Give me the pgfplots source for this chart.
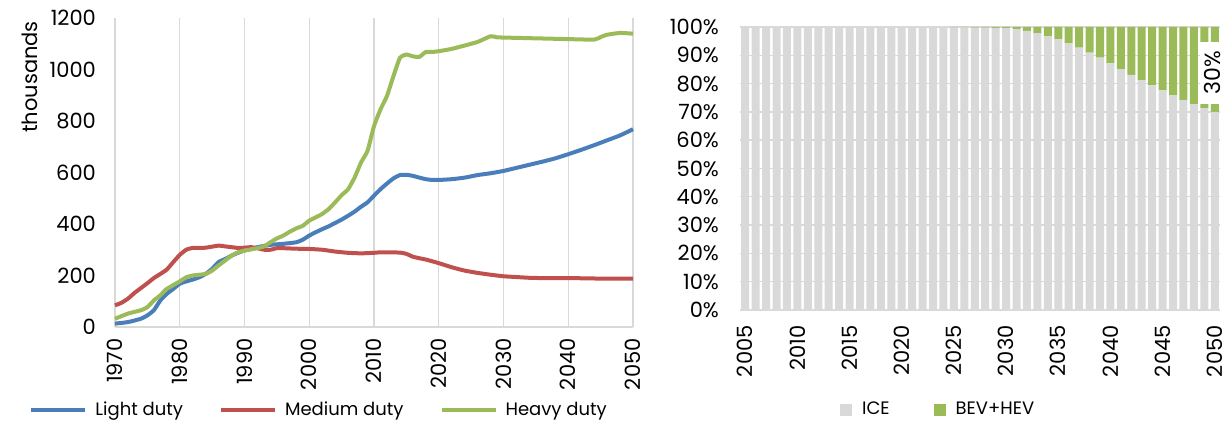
\documentclass[border=0pt]{standalone}
\usepackage{pgfplots}
\pgfplotsset{compat=1.18}
\usepackage{fontspec}
\setmainfont{Poppins}
\definecolor{cblue}{HTML}{4A7EBB}
\definecolor{cred}{HTML}{C0504D}
\definecolor{cgreen}{HTML}{9BBB59}
\definecolor{cgray}{HTML}{D9D9D9}
\begin{document}
\begin{tikzpicture}
\useasboundingbox (0,0) rectangle (614pt,213pt);
\node[rotate=90, font=\fontsize{10.5}{12}\selectfont] at (15pt,174.5pt) {thousands};
\begin{axis}[at={(57.5pt,49.5pt)}, anchor=south west, scale only axis,
  width=259pt, height=154.5pt,
  xmin=1970, xmax=2050, ymin=0, ymax=1200,
  xtick={1970,1980,...,2050}, ytick={0,200,...,1200},
  xmajorgrids, grid style={cgray, line width=0.7pt},
  axis lines*=left, axis line style={cgray, line width=0.8pt},
  major tick length=0pt,
  /pgf/number format/1000 sep={},
  /pgf/number format/assume math mode=true,
  tick label style={font=\fontsize{10.5}{12}\selectfont},
  x tick label style={rotate=90, anchor=east, inner sep=0pt, xshift=-5.5pt},
  y tick label style={xshift=-6pt},
  legend columns=3,
  legend style={at={(0.396,-0.269)}, anchor=center, draw=none, fill=none,
    font=\fontsize{9}{11}\selectfont, inner sep=0pt,
    /tikz/every even column/.append style={column sep=16pt},
    /tikz/every odd column/.append style={column sep=2pt}},
  legend image code/.code={\draw[#1, line width=2pt] (0pt,0pt) -- (27pt,0pt);},
  clip=false,
]
\addplot[cblue, line width=2pt, smooth, tension=0.3] coordinates {
(1970,13)(1972,19)(1974,32)(1975,45)(1976,65)(1977,103)(1978,129)(1979,148)(1980,168)
(1981,177)(1982,184)(1983,193)(1984,206)(1985,226)(1986,252)(1987,264)(1988,277)(1989,288)
(1990,297)(1991,303)(1992,310)(1994,319)(1996,323)(1998,329)(1999,339)(2000,355)(2001,368)
(2002,380)(2003,391)(2004,404)(2005,417)(2006,432)(2007,448)(2008,467)(2009,484)(2010,510)
(2011,535)(2012,557)(2013,577)(2014,590)(2015,591)(2016,587)(2017,580)(2018,574)(2019,571)
(2020,571)(2022,574)(2024,580)(2026,590)(2028,597)(2030,606)(2032,618)(2034,630)(2036,642)
(2038,655)(2040,671)(2042,688)(2044,706)(2046,725)(2048,744)(2050,768)};
\addlegendentry{Light duty}
\addplot[cred, line width=2pt, smooth, tension=0.3] coordinates {
(1970,84)(1971,94)(1972,110)(1973,132)(1974,151)(1975,170)(1976,190)(1977,206)(1978,223)
(1979,252)(1980,280)(1981,300)(1982,307)(1983,307)(1984,308)(1985,312)(1986,316)(1987,313)
(1988,310)(1989,307)(1990,308)(1991,310)(1992,306)(1993,300)(1994,300)(1995,306)(1996,306)
(1998,304)(2000,303)(2002,300)(2004,293)(2006,288)(2008,286)(2010,288)(2011,290)(2014,289)
(2015,284)(2016,273)(2017,267)(2018,262)(2020,248)(2022,232)(2024,219)(2026,210)(2028,203)
(2030,197)(2032,194)(2034,191)(2036,190)(2040,190)(2045,188)(2050,188)};
\addlegendentry{Medium duty}
\addplot[cgreen, line width=2pt, smooth, tension=0.3] coordinates {
(1970,32)(1972,52)(1974,65)(1975,77)(1976,103)(1977,123)(1978,148)(1980,177)(1981,193)
(1982,200)(1984,206)(1985,219)(1986,239)(1987,258)(1988,277)(1989,290)(1990,297)(1992,306)
(1993,313)(1994,329)(1995,344)(1996,355)(1997,370)(1998,383)(1999,393)(2000,413)(2001,426)
(2002,439)(2003,458)(2004,484)(2005,512)(2006,535)(2007,580)(2008,639)(2009,684)(2010,780)
(2011,845)(2012,897)(2013,974)(2014,1045)(2015,1058)(2016,1051)(2017,1049)(2018,1068)
(2019,1068)(2020,1071)(2022,1080)(2024,1093)(2026,1107)(2028,1129)(2029,1125)(2030,1124)
(2035,1121)(2040,1118)(2044,1116)(2045,1126)(2046,1135)(2048,1142)(2050,1139)};
\addlegendentry{Heavy duty}
\end{axis}

\begin{axis}[at={(370pt,58pt)}, anchor=south west, scale only axis,
  width=240pt, height=141.5pt,
  xmin=2004.5, xmax=2050.5, ymin=0, ymax=100,
  ybar stacked, bar width=4pt,
  xtick={2005,2010,...,2050}, ytick={0,10,...,100},
  yticklabel={\pgfmathprintnumber{\tick}\%},
  ymajorgrids, grid style={cgray, line width=0.7pt},
  axis lines*=left, x axis line style={cgray, line width=0.8pt},
  y axis line style={draw=none},
  major tick length=0pt,
  /pgf/number format/1000 sep={},
  /pgf/number format/assume math mode=true,
  tick label style={font=\fontsize{10.5}{12}\selectfont},
  x tick label style={rotate=90, anchor=east, inner sep=0pt, xshift=-7.5pt},
  y tick label style={xshift=-7pt},
  legend columns=2,
  legend style={at={(0.415,-0.353)}, anchor=center, draw=none, fill=none,
    font=\fontsize{9}{11}\selectfont, inner sep=0pt,
    /tikz/every even column/.append style={column sep=20pt},
    /tikz/every odd column/.append style={column sep=3pt}},
  legend image code/.code={\fill[#1] (0pt,-3pt) rectangle (6pt,3pt);},
  clip=false,
  after end axis/.code={
    \fill[white] (axis cs:2048.6,72.9) rectangle (axis cs:2051.0,94.7);
    \node[rotate=90, font=\fontsize{11}{12}\selectfont, inner sep=0pt] at (axis cs:2049.75,83.8) {30\%};
  },
]
\addplot[fill=cgray, draw=none] coordinates {
(2005,100)(2006,100)(2007,100)(2008,100)(2009,100)(2010,100)(2011,100)(2012,100)(2013,100)
(2014,100)(2015,100)(2016,100)(2017,100)(2018,100)(2019,100)(2020,100)(2021,100)(2022,100)
(2023,100)(2024,100)(2025,99.9)(2026,99.9)(2027,99.8)(2028,99.8)(2029,99.7)(2030,99.6)
(2031,99.2)(2032,98.6)(2033,97.8)(2034,96.8)(2035,95.6)(2036,94.2)(2037,92.7)(2038,90.9)
(2039,89.2)(2040,87.1)(2041,85.1)(2042,83.1)(2043,81.2)(2044,79.4)(2045,77.6)(2046,75.9)
(2047,74.2)(2048,72.7)(2049,71.3)(2050,70.0)};
\addlegendentry{ICE}
\addplot[fill=cgreen, draw=none] coordinates {
(2005,0)(2006,0)(2007,0)(2008,0)(2009,0)(2010,0)(2011,0)(2012,0)(2013,0)
(2014,0)(2015,0)(2016,0)(2017,0)(2018,0)(2019,0)(2020,0)(2021,0)(2022,0)
(2023,0)(2024,0)(2025,0.1)(2026,0.1)(2027,0.2)(2028,0.2)(2029,0.3)(2030,0.4)
(2031,0.8)(2032,1.4)(2033,2.2)(2034,3.2)(2035,4.4)(2036,5.8)(2037,7.3)(2038,9.1)
(2039,10.8)(2040,12.9)(2041,14.9)(2042,16.9)(2043,18.8)(2044,20.6)(2045,22.4)(2046,24.1)
(2047,25.8)(2048,27.3)(2049,28.7)(2050,30.0)};
\addlegendentry{BEV+HEV}
\end{axis}
\end{tikzpicture}
\end{document}
